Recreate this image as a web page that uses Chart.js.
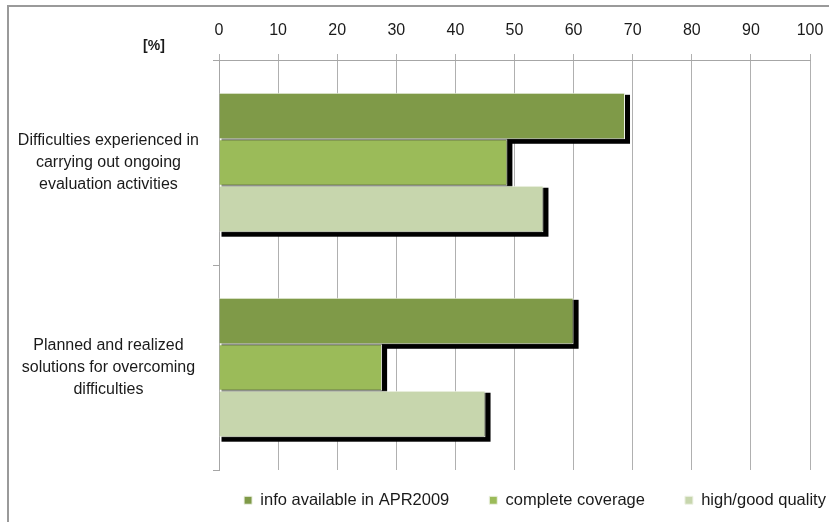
<!DOCTYPE html>
<html>
<head>
<meta charset="utf-8">
<script src="https://cdn.jsdelivr.net/npm/chart.js@4/dist/chart.umd.min.js"></script>
<style>
  html, body { margin: 0; padding: 0; background: #ffffff; overflow: hidden; }
  #wrap { position: relative; width: 829px; height: 522px; }
  #frame { position: absolute; left: 7px; top: 5px; width: 900px; height: 600px;
           border-left: 2px solid #9a9a9a; border-top: 2px solid #9a9a9a; }
  canvas { position: absolute; left: 0; top: 0; }
</style>
</head>
<body>
<div id="wrap">
  <div id="frame"></div>
  <canvas id="c" width="829" height="522"></canvas>
</div>
<script>
// Survey categories (multi-line labels)
const categories = [
  ["Difficulties experienced in", "carrying out ongoing", "evaluation activities"],
  ["Planned and realized", "solutions for overcoming", "difficulties"]
];

// Series names
const seriesNames = ["info available in APR2009", "complete coverage", "high/good quality"];

// Shares in percent
const infoAvailable    = [68.7, 60.0];
const completeCoverage = [48.8, 27.6];
const highQuality      = [54.9, 45.1];

const unitLabel = "[%]";

const FONT = "'Liberation Sans', Arial, sans-serif";

// Black drop shadow behind every bar, drawn before the bars themselves
const barShadow = {
  id: 'barShadow',
  beforeDatasetsDraw(chart) {
    const ctx = chart.ctx;
    ctx.save();
    ctx.fillStyle = '#000000';
    chart.getSortedVisibleDatasetMetas().forEach(meta => {
      meta.data.forEach(bar => {
        const p = bar.getProps(['x', 'y', 'base', 'height'], true);
        ctx.fillRect(p.base + 2, p.y - p.height / 2 + 2, p.x - p.base + 3, p.height + 2.5);
      });
    });
    ctx.restore();
  }
};

// Unit caption to the left of the value axis
const unitCaption = {
  id: 'unitCaption',
  afterDraw(chart) {
    const ctx = chart.ctx;
    const a = chart.chartArea;
    ctx.save();
    ctx.font = "bold 14px " + FONT;
    ctx.fillStyle = '#1a1a1a';
    ctx.textAlign = 'center';
    ctx.textBaseline = 'middle';
    ctx.fillText(unitLabel, a.left - 65, a.top - 14);
    ctx.restore();
  }
};

// Nudge the legend box: to the right and up, closer to the plot
const legendOffset = {
  id: 'legendOffset',
  afterLayout(chart) {
    const l = chart.legend;
    if (!l) return;
    l.left += 130; l.right += 130;
    l.top -= 18;
  }
};

new Chart(document.getElementById('c'), {
  type: 'bar',
  data: {
    labels: categories,
    datasets: [
      { label: seriesNames[0], data: infoAvailable,    backgroundColor: '#7f9a48' },
      { label: seriesNames[1], data: completeCoverage, backgroundColor: '#9bbb59' },
      { label: seriesNames[2], data: highQuality,      backgroundColor: '#c7d6ad' }
    ]
  },
  options: {
    indexAxis: 'y',
    responsive: false,
    animation: false,
    devicePixelRatio: 1,
    layout: { padding: { left: 0, right: 19, top: 14, bottom: 0 } },
    datasets: {
      bar: {
        categoryPercentage: 0.68,
        barPercentage: 1.0,
        borderWidth: 1,
        borderColor: '#eef2e6'
      }
    },
    scales: {
      x: {
        position: 'top',
        min: 0,
        max: 100,
        ticks: {
          stepSize: 10,
          padding: 14,
          color: '#1a1a1a',
          font: { family: FONT, size: 16 }
        },
        grid: {
          color: '#b0b0b0',
          lineWidth: 1,
          tickLength: 6,
          drawTicks: true
        },
        border: { display: true, color: '#a6a6a6', width: 1 },
        afterFit(scale) {
          scale.height = 46;
          scale.paddingLeft = 0;
          scale.paddingRight = 0;
        }
      },
      y: {
        type: 'category',
        offset: true,
        ticks: {
          crossAlign: 'center',
          padding: 14,
          color: '#1a1a1a',
          font: { family: FONT, size: 16, lineHeight: 1.375 }
        },
        grid: {
          offset: true,
          drawOnChartArea: false,
          color: '#a6a6a6',
          tickLength: 6
        },
        border: { display: true, color: '#a6a6a6', width: 1 },
        afterFit(scale) { scale.width = 219; }
      }
    },
    plugins: {
      legend: {
        position: 'bottom',
        fullSize: true,
        maxHeight: 52,
        labels: {
          boxWidth: 8,
          boxHeight: 8,
          padding: 40,
          color: '#1a1a1a',
          font: { family: FONT, size: 16.5 }
        }
      },
      tooltip: { enabled: false }
    }
  },
  plugins: [barShadow, unitCaption, legendOffset]
});
</script>
</body>
</html>
